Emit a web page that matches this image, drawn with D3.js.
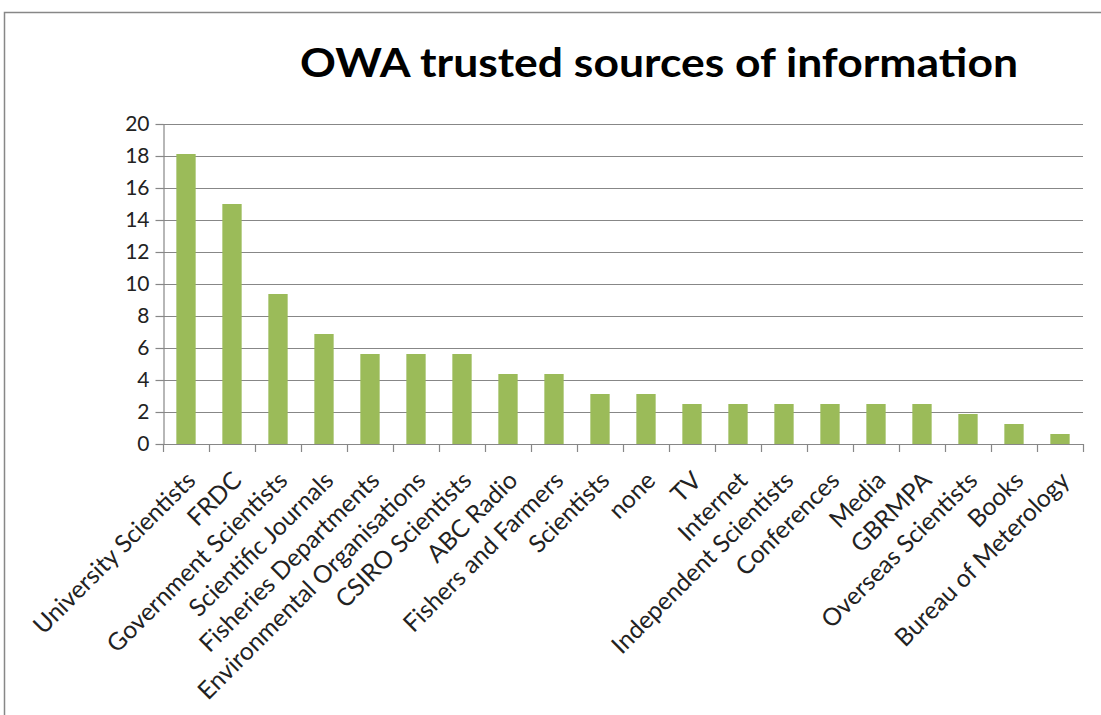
<!DOCTYPE html>
<html>
<head>
<meta charset="utf-8">
<script src="https://cdn.jsdelivr.net/npm/d3@7"></script>
<style>
  body { margin: 0; background: #fff; }
</style>
</head>
<body>
<div id="chart"></div>
<script>
// data (percent of respondents)
var categories = [
  "University Scientists", "FRDC", "Government Scientists", "Scientific Journals",
  "Fisheries Departments", "Environmental Organisations", "CSIRO Scientists",
  "ABC Radio", "Fishers and Farmers", "Scientists", "none", "TV", "Internet",
  "Independent Scientists", "Conferences", "Media", "GBRMPA",
  "Overseas Scientists", "Books", "Bureau of Meterology"
];
var values = [
  18.125, 15, 9.375, 6.875, 5.625, 5.625, 5.625, 4.375, 4.375, 3.125,
  3.125, 2.5, 2.5, 2.5, 2.5, 2.5, 2.5, 1.875, 1.25, 0.625
];
var yTicks = [0, 2, 4, 6, 8, 10, 12, 14, 16, 18, 20];
var title = "OWA trusted sources of information";

var width = 1101;
var height = 715;
var margin = {top: 124, right: 18, bottom: 271, left: 163};

var svg = d3.select("#chart")
  .append("svg")
  .attr("width", width)
  .attr("height", height);

// outer frame
svg.append("rect")
  .attr("x", 4.5)
  .attr("y", 12.5)
  .attr("width", width + 20)
  .attr("height", height + 20)
  .attr("fill", "none")
  .attr("stroke", "#878787")
  .attr("stroke-width", 1.5);

svg.append("text")
  .attr("x", 300)
  .attr("y", 77)
  .attr("textLength", 718)
  .attr("lengthAdjust", "spacingAndGlyphs")
  .style("font-family", "Lato, 'Open Sans', sans-serif")
  .style("font-weight", "bold")
  .style("font-size", "40px")
  .style("fill", "#000")
  .text(title);

var x = d3.scaleBand()
  .domain(categories)
  .range([margin.left, width - margin.right])
  .paddingInner(0.58)
  .paddingOuter(0.29);

var y = d3.scaleLinear()
  .domain([0, 20])
  .range([height - margin.bottom, margin.top]);

// gridlines
svg.append("g")
  .selectAll("line")
  .data(yTicks.slice(1))
  .join("line")
  .attr("x1", margin.left)
  .attr("x2", width - margin.right)
  .attr("y1", d => Math.round(y(d)) + 0.5)
  .attr("y2", d => Math.round(y(d)) + 0.5)
  .attr("stroke", "#878787")
  .attr("stroke-width", 1.2);

// bars
svg.append("g")
  .attr("fill", "#9BBB59")
  .selectAll("rect")
  .data(values)
  .join("rect")
  .attr("x", (d, i) => x(categories[i]))
  .attr("y", d => y(d))
  .attr("width", x.bandwidth())
  .attr("height", d => y(0) - y(d));

// y axis
var yAxis = svg.append("g")
  .attr("transform", "translate(" + (margin.left + 0.5) + ",0)")
  .call(d3.axisLeft(y).tickValues(yTicks).tickSize(8).tickPadding(6).tickSizeOuter(0));

yAxis.selectAll("path, line").attr("stroke", "#878787").attr("stroke-width", 1.2);
yAxis.selectAll("text")
  .style("font-family", "Lato, 'Open Sans', sans-serif")
  .style("font-size", "21px")
  .style("fill", "#222");

// x axis: line and ticks at band boundaries
var boundaries = d3.range(categories.length + 1).map(i => margin.left + i * x.step());

var xAxis = svg.append("g");
xAxis.append("line")
  .attr("x1", margin.left)
  .attr("x2", width - margin.right)
  .attr("y1", Math.round(y(0)) + 0.5)
  .attr("y2", Math.round(y(0)) + 0.5)
  .attr("stroke", "#878787")
  .attr("stroke-width", 1.2);

xAxis.selectAll(".tick")
  .data(boundaries)
  .join("line")
  .attr("x1", d => Math.round(d) + 0.5)
  .attr("x2", d => Math.round(d) + 0.5)
  .attr("y1", y(0))
  .attr("y2", y(0) + 8)
  .attr("stroke", "#878787")
  .attr("stroke-width", 1.2);

// rotated category labels
xAxis.selectAll("text")
  .data(categories)
  .join("text")
  .attr("text-anchor", "end")
  .attr("transform", d => "translate(" + (x(d) + x.bandwidth() / 2 + 11) + "," + (y(0) + 38) + ")rotate(-45)")
  .style("font-family", "Lato, 'Open Sans', sans-serif")
  .style("font-size", "24.5px")
  .style("fill", "#222")
  .text(d => d);
</script>
</body>
</html>
